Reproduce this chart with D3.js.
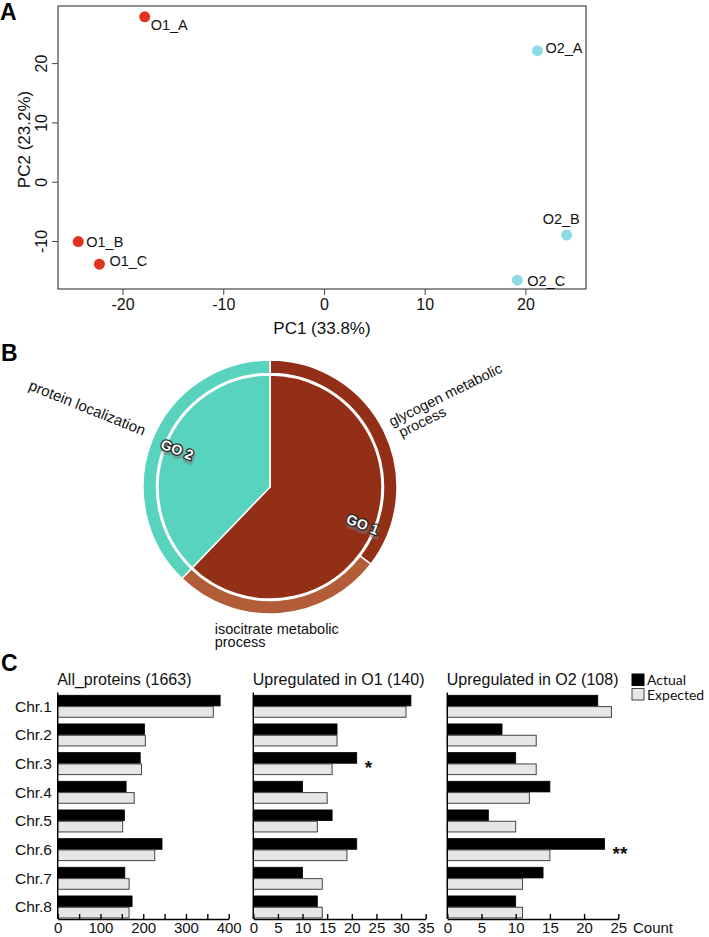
<!DOCTYPE html>
<html>
<head>
<meta charset="utf-8">
<script src="https://cdn.jsdelivr.net/npm/d3@7"></script>
<style>
  html, body { margin: 0; padding: 0; background: #fff; }
  svg { display: block; font-family: "Liberation Sans", Arial, sans-serif; }
</style>
</head>
<body>
<svg id="chart" width="709" height="937"></svg>
<script>
// ---------- Panel A data (PCA) ----------
const pcaNames = ["O1_A", "O1_B", "O1_C", "O2_A", "O2_B", "O2_C"];
const pcaGroup = ["O1", "O1", "O1", "O2", "O2", "O2"];
const pc1 = [-17.8, -24.4, -22.3, 21.2, 24.1, 19.2];
const pc2 = [27.8, -10.1, -13.9, 22.1, -9.0, -16.6];
const pcaXTicks = [-20, -10, 0, 10, 20];
const pcaYTicks = [-10, 0, 10, 20];

// ---------- Panel B data (GO pie) ----------
const goTerms = ["GO 1", "GO 2"];
const goShare = [62.2, 37.8];
const processNames = ["glycogen metabolic process", "isocitrate metabolic process", "protein localization"];
const processShare = [35.4, 26.8, 37.8];

// ---------- Panel C data (chromosome bars) ----------
const chromosomes = ["Chr.1", "Chr.2", "Chr.3", "Chr.4", "Chr.5", "Chr.6", "Chr.7", "Chr.8"];
const seriesNames = ["Actual", "Expected"];
const panelTitles = ["All_proteins (1663)", "Upregulated in O1 (140)", "Upregulated in O2 (108)"];
const allActual   = [380, 203, 193, 160, 156, 244, 157, 174];
const allExpected = [364, 205, 196, 179, 152, 227, 167, 167];
const o1Actual    = [32, 17, 21, 10, 16, 21, 10, 13];
const o1Expected  = [31, 17, 16, 15, 13, 19, 14, 14];
const o2Actual    = [22, 8, 10, 15, 6, 23, 14, 10];
const o2Expected  = [24, 13, 13, 12, 10, 15, 11, 11];
const allSig = ["", "", "", "", "", "", "", ""];
const o1Sig  = ["", "", "*", "", "", "", "", ""];
const o2Sig  = ["", "", "", "", "", "**", "", ""];
const axisMax = [400, 35, 25];
const tickLabels = [[0, 100, 200, 300, 400], [0, 5, 10, 15, 20, 25, 30, 35], [0, 5, 10, 15, 20, 25]];
const tickMarks = [[0, 50, 100, 150, 200, 250, 300, 350, 400], [0, 5, 10, 15, 20, 25, 30, 35], [0, 5, 10, 15, 20, 25]];

const svg = d3.select("#chart");
const plain = d => String(d); // hyphen-minus like the original

// ===================== Panel A =====================
(function () {
  const left = 58, right = 586, top = 6, bottom = 289;
  const x = d3.scaleLinear().domain([-26.41, 26.02]).range([left, right]);
  const y = d3.scaleLinear().domain([-18.09, 29.63]).range([bottom, top]);
  const g = svg.append("g");
  g.append("text").attr("x", 0).attr("y", 20).attr("font-size", 23).attr("font-weight", "bold").text("A");
  g.append("rect").attr("x", left).attr("y", top).attr("width", right - left).attr("height", bottom - top)
    .attr("fill", "none").attr("stroke", "#222").attr("stroke-width", 1);

  const xa = g.append("g").attr("transform", `translate(0,${bottom})`)
    .call(d3.axisBottom(x).tickValues(pcaXTicks).tickSize(6).tickPadding(4).tickFormat(plain));
  xa.select(".domain").remove();
  xa.selectAll("line").attr("stroke", "#444");
  xa.selectAll("text").attr("font-size", 16).attr("font-family", "Liberation Sans").attr("fill", "#111");

  const ya = g.append("g").attr("transform", `translate(${left},0)`)
    .call(d3.axisLeft(y).tickValues(pcaYTicks).tickSize(6).tickPadding(4).tickFormat(plain));
  ya.select(".domain").remove();
  ya.selectAll("line").attr("stroke", "#444");
  ya.selectAll("text").attr("font-size", 16).attr("font-family", "Liberation Sans").attr("fill", "#111")
    .attr("text-anchor", "middle").attr("dy", null).attr("x", 0).attr("y", 0)
    .attr("transform", "translate(-17,0) rotate(-90)")
    .attr("dominant-baseline", "central");

  g.append("text").attr("x", (left + right) / 2).attr("y", 334).attr("text-anchor", "middle")
    .attr("font-size", 17).attr("fill", "#111").text("PC1 (33.8%)");
  g.append("text").attr("transform", `translate(24,${(top + bottom) / 2 - 8}) rotate(-90)`)
    .attr("text-anchor", "middle").attr("dominant-baseline", "central")
    .attr("font-size", 17).attr("fill", "#111").text("PC2 (23.2%)");

  const colors = { O1: "#e0321c", O2: "#8fdbe4" };
  const labelOffset = {
    "O1_A": [6, 13], "O1_B": [8, 5], "O1_C": [10, 2],
    "O2_A": [8, 2], "O2_B": [-24, -11], "O2_C": [10, 6]
  };
  pcaNames.forEach((n, i) => {
    g.append("circle").attr("cx", x(pc1[i])).attr("cy", y(pc2[i])).attr("r", 5.5)
      .attr("fill", colors[pcaGroup[i]]);
    g.append("text").attr("x", x(pc1[i]) + labelOffset[n][0]).attr("y", y(pc2[i]) + labelOffset[n][1])
      .attr("font-size", 14.5).attr("fill", "#111").text(n);
  });
})();

// ===================== Panel B =====================
(function () {
  const cx = 270, cy = 487, R = 127, rIn = 112, ringIn = 113.5;
  const g = svg.append("g");
  g.append("text").attr("x", 1).attr("y", 361).attr("font-size", 23).attr("font-weight", "bold").text("B");
  const pg = g.append("g").attr("transform", `translate(${cx},${cy})`);
  const pie = d3.pie().sort(null).startAngle(0).endAngle(2 * Math.PI);
  const innerArcs = pie(goShare);
  const outerArcs = pie(processShare);
  const innerColors = ["#932f16", "#57d3be"];
  const outerColors = ["#932f16", "#b35d38", "#57d3be"];

  const arcOuter = d3.arc().innerRadius(ringIn).outerRadius(R);
  const arcInner = d3.arc().innerRadius(0).outerRadius(rIn);

  pg.selectAll("path.outer").data(outerArcs).enter().append("path")
    .attr("class", "outer").attr("d", arcOuter).attr("fill", (d, i) => outerColors[i])
    .attr("stroke", "#fff").attr("stroke-width", 1.5);
  pg.selectAll("path.inner").data(innerArcs).enter().append("path")
    .attr("class", "inner").attr("d", arcInner).attr("fill", (d, i) => innerColors[i])
    .attr("stroke", "#fff").attr("stroke-width", 1.5);

  const polar = (r, a) => [Math.sin(a) * r, -Math.cos(a) * r];
  const mid = d => (d.startAngle + d.endAngle) / 2;
  const deg = a => a * 180 / Math.PI;

  // GO labels (white with dark outline + shadow)
  innerArcs.forEach((d, i) => {
    const a = mid(d);
    const [px, py] = polar(100, a);
    let rot = deg(a) - 90;
    if (rot > 90) rot -= 180;
    const t = pg.append("g").attr("transform", `translate(${px},${py}) rotate(${rot})`);
    t.append("text").attr("x", 2).attr("y", 2.5).attr("text-anchor", "middle").attr("dominant-baseline", "central")
      .attr("font-size", 14).attr("font-weight", "bold").attr("fill", "#777").attr("opacity", 0.5)
      .attr("stroke", "#777").attr("stroke-width", 3).attr("stroke-linejoin", "round").text(goTerms[i]);
    t.append("text").attr("text-anchor", "middle").attr("dominant-baseline", "central")
      .attr("font-size", 14).attr("font-weight", "bold").attr("fill", "#fff")
      .attr("stroke", "#222").attr("stroke-width", 2.4).attr("stroke-linejoin", "round")
      .attr("paint-order", "stroke").text(goTerms[i]);
  });

  // process labels
  const fs = 14.5;
  // glycogen (index 0)
  {
    const a = mid(outerArcs[0]);
    const [px, py] = polar(R + 9, a);
    const t = pg.append("text").attr("transform", `translate(${px},${py}) rotate(${deg(a) - 90})`)
      .attr("font-size", fs).attr("fill", "#111");
    t.append("tspan").attr("x", 0).attr("y", 0).text("glycogen metabolic");
    t.append("tspan").attr("x", 4).attr("y", 14).text("process");
  }
  // isocitrate (index 1) horizontal under the ring
  {
    const a = mid(outerArcs[1]);
    const [px, py] = polar(R + 16, a);
    const t = pg.append("text").attr("font-size", fs).attr("fill", "#111");
    const s1 = t.append("tspan").attr("y", py + 4).text("isocitrate metabolic");
    const w = s1.node().getComputedTextLength();
    const x0 = px - w / 2 - 4;
    s1.attr("x", x0);
    t.append("tspan").attr("x", x0).attr("y", py + 17).text("process");
  }
  // protein localization (index 2)
  {
    const a = mid(outerArcs[2]);
    const [px, py] = polar(R + 10, a);
    pg.append("text").attr("transform", `translate(${px},${py}) rotate(${deg(a) - 270})`)
      .attr("text-anchor", "end").attr("font-size", 15).attr("fill", "#111").text("protein localization");
  }
})();

// ===================== Panel C =====================
(function () {
  const g = svg.append("g");
  g.append("text").attr("x", 1).attr("y", 671).attr("font-size", 23).attr("font-weight", "bold").text("C");

  const step = 28.67, pIn = 0.233, pOut = 0.1;
  const y0 = 692.4;
  const y = d3.scaleBand().domain(chromosomes)
    .range([y0, y0 + step * (chromosomes.length - pIn + 2 * pOut)])
    .paddingInner(pIn).paddingOuter(pOut);
  const ySub = d3.scaleBand().domain(seriesNames).range([0, y.bandwidth()]).paddingInner(0.06);
  const axisY = 919;

  const ranges = [[57.7, 228.7], [253.3, 425.7], [447.3, 618.3]];
  const actual = [allActual, o1Actual, o2Actual];
  const expected = [allExpected, o1Expected, o2Expected];
  const sig = [allSig, o1Sig, o2Sig];

  ranges.forEach((rg, p) => {
    const x = d3.scaleLinear().domain([0, axisMax[p]]).range(rg);
    const pg = g.append("g");
    pg.append("text").attr("x", rg[0] - 0.5).attr("y", 685).attr("font-size", 16).attr("fill", "#111")
      .text(panelTitles[p]);

    chromosomes.forEach((c, i) => {
      pg.append("rect").attr("x", x(0)).attr("y", y(c) + ySub("Actual"))
        .attr("width", x(actual[p][i]) - x(0)).attr("height", ySub.bandwidth())
        .attr("fill", "#000").attr("stroke", "#000").attr("stroke-width", 0.8);
      pg.append("rect").attr("x", x(0)).attr("y", y(c) + ySub("Expected"))
        .attr("width", x(expected[p][i]) - x(0)).attr("height", ySub.bandwidth())
        .attr("fill", "#e6e6e6").attr("stroke", "#444").attr("stroke-width", 1);
      if (sig[p][i]) {
        const xm = Math.max(x(actual[p][i]), x(expected[p][i]));
        pg.append("text").attr("x", xm + 8).attr("y", y(c) + y.bandwidth() / 2 + 10)
          .attr("font-size", 19).attr("font-weight", "bold").attr("fill", "#111").text(sig[p][i]);
      }
    });

    // left axis line
    pg.append("line").attr("x1", x(0)).attr("x2", x(0)).attr("y1", y.range()[0]).attr("y2", axisY)
      .attr("stroke", "#000").attr("stroke-width", 1.4);
    // bottom axis: tick marks point inward (upwards)
    const ax = pg.append("g").attr("transform", `translate(0,${axisY})`)
      .call(d3.axisBottom(x).tickValues(tickMarks[p]).tickSize(-5).tickSizeOuter(0).tickFormat(""));
    ax.select(".domain").attr("stroke", "#000").attr("stroke-width", 1.4);
    ax.selectAll(".tick line").attr("stroke", "#000").attr("stroke-width", 1.4);
    const lab = pg.append("g").attr("transform", `translate(0,${axisY})`)
      .call(d3.axisBottom(x).tickValues(tickLabels[p]).tickSize(0).tickPadding(3).tickFormat(plain));
    lab.select(".domain").remove();
    lab.selectAll("text").attr("font-size", 15).attr("font-family", "Liberation Sans").attr("fill", "#111");
  });

  // category labels
  chromosomes.forEach(c => {
    g.append("text").attr("x", 52).attr("y", y(c) + y.bandwidth() / 2).attr("text-anchor", "end")
      .attr("dominant-baseline", "central").attr("font-size", 15.5).attr("fill", "#111").text(c);
  });

  g.append("text").attr("x", 633).attr("y", 933).attr("font-size", 15).attr("fill", "#111").text("Count");

  // legend
  const lg = g.append("g").attr("font-family", "Lato, 'Noto Sans', sans-serif");
  seriesNames.forEach((s, i) => {
    lg.append("rect").attr("x", 632).attr("y", 674 + i * 14.5).attr("width", 12).attr("height", 11.5)
      .attr("fill", i === 0 ? "#000" : "#e6e6e6").attr("stroke", i === 0 ? "#000" : "#444").attr("stroke-width", 1);
    lg.append("text").attr("x", 647).attr("y", 685 + i * 14.5).attr("font-size", 14).attr("fill", "#111").text(s);
  });
})();
</script>
</body>
</html>
